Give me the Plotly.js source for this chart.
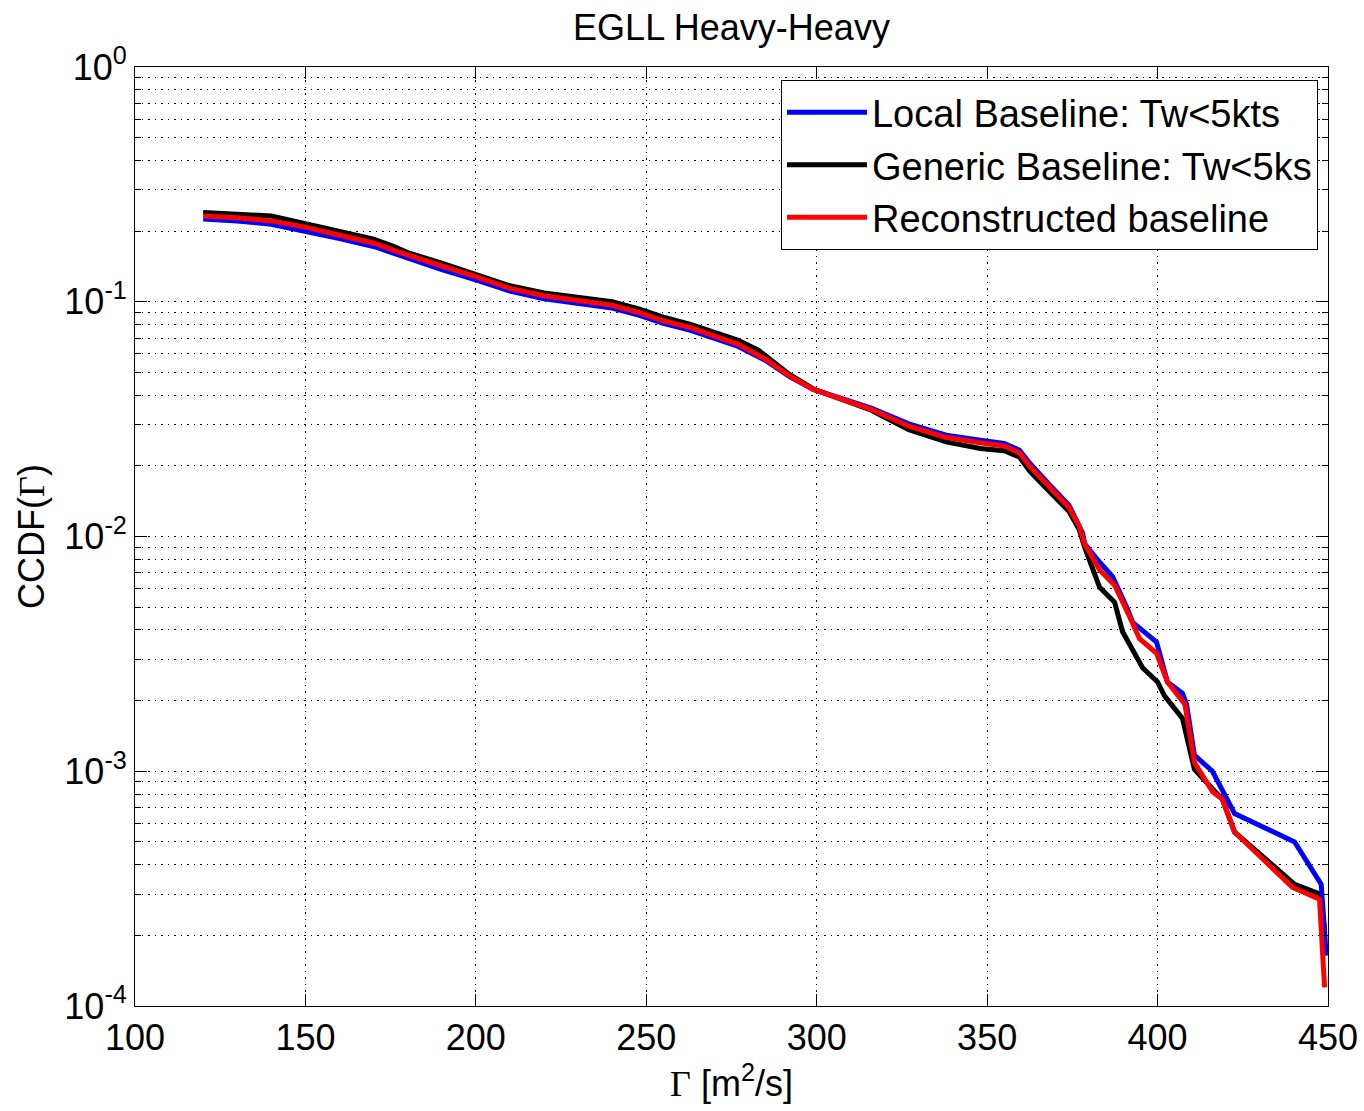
<!DOCTYPE html>
<html>
<head>
<meta charset="utf-8">
<script src="https://cdn.plot.ly/plotly-3.0.1.min.js"></script>
<style>html,body{margin:0;padding:0;background:#fff;}</style>
</head>
<body>
<div id="chart" style="width:1364px;height:1111px;"></div>
<script>
// Local Baseline: Tw<5kts (blue)
const localX = [120,130,140,150,160,170,180,190,200,210,220,230,240,248,255,263,270,277,285,292,299,307,316,327,338,348,355,359.5,362.5,368,374,378,378.6,383,386.8,391.2,392.7,399.7,402.9,407.3,408.5,410.8,416.1,422.6,440.2,448,449.5];
const localY = [0.225,0.221,0.214,0.2,0.186,0.172,0.153,0.137,0.124,0.111,0.103,0.098,0.094,0.0875,0.081,0.0755,0.07,0.0645,0.0562,0.048,0.0423,0.0387,0.0352,0.0302,0.027,0.0257,0.0249,0.0233,0.0205,0.0168,0.0136,0.01035,0.0093,0.00777,0.00675,0.0049,0.00431,0.00355,0.0024,0.00215,0.00193,0.00117,0.001,0.00066,0.0005,0.00033,0.000164];

// Generic Baseline: Tw<5ks (black)
const genericX = [120,130,140,150,160,170,176,180,190,200,210,220,230,240,248,255,263,270,277,283,285,292,299,307,316,327,338,348,355,359.5,362.5,368,374,377,378.6,383,387.4,389.7,395.6,400,402,407.3,410.8,419,422.6,440.2,447.7,449];
const genericY = [0.240,0.237,0.232,0.215,0.199,0.185,0.172,0.162,0.146,0.131,0.117,0.109,0.104,0.1,0.093,0.086,0.080,0.074,0.0685,0.062,0.059,0.049,0.0425,0.0385,0.0345,0.0285,0.0253,0.0237,0.0232,0.0218,0.019,0.0157,0.0128,0.0107,0.009,0.00607,0.00525,0.00394,0.00276,0.0024,0.0021,0.00168,0.00102,0.00076,0.00055,0.00033,0.0003,0.00021];

// Reconstructed baseline (red)
const reconX = [120,130,140,150,160,170,176.8,180,190,200,210,220,230,240,248,255,263,270,277,285,292,299,307,316,327,338,348,355,359.5,362.5,368,374,377,378.6,383,387.4,391.8,394.7,399.7,402.9,408,410.8,416.1,419,422.6,439.6,447.5,449];
const reconY = [0.232,0.228,0.221,0.208,0.192,0.178,0.164,0.158,0.142,0.128,0.114,0.106,0.101,0.0966,0.0899,0.083,0.0776,0.0715,0.0659,0.0569,0.0483,0.0423,0.0384,0.0348,0.0295,0.0264,0.0251,0.0243,0.0227,0.0199,0.0164,0.0133,0.0111,0.0093,0.0072,0.0062,0.00455,0.00367,0.00318,0.0024,0.00193,0.00109,0.00082,0.00076,0.00055,0.00032,0.000285,0.00012];

const xTicks = [100,150,200,250,300,350,400,450];
const yTickVals = [1e-4,1e-3,1e-2,1e-1,1];
const yTickText = ['10<sup>-4</sup>','10<sup>-3</sup>','10<sup>-2</sup>','10<sup>-1</sup>','10<sup>0</sup>'];

const FONT = 'Liberation Sans, Arial, Helvetica, sans-serif';

const traces = [
  {x: genericX, y: genericY, name: 'Generic Baseline: Tw<5ks', mode: 'lines',
   line: {color: '#000000', width: 5}, legendrank: 2},
  {x: localX, y: localY, name: 'Local Baseline: Tw<5kts', mode: 'lines',
   line: {color: '#0000ff', width: 5}, legendrank: 1},
  {x: reconX, y: reconY, name: 'Reconstructed baseline', mode: 'lines',
   line: {color: '#ff0000', width: 5}, legendrank: 3}
];

const gridColor = '#000000';
const gridDash = '1.5px,5px';

const layout = {
  width: 1364, height: 1111,
  paper_bgcolor: '#ffffff', plot_bgcolor: '#ffffff',
  margin: {l: 135, r: 36, t: 67, b: 105},
  font: {family: FONT, color: '#000', size: 36},
  title: {text: 'EGLL Heavy-Heavy', font: {family: FONT, size: 36, color: '#000'},
          x: 0.5, xref: 'paper', xanchor: 'center', y: 0.975, yanchor: 'middle'},
  showlegend: true,
  legend: {x: 0.9916, xanchor: 'right', y: 0.986, yanchor: 'top',
           bgcolor: '#ffffff', bordercolor: '#000', borderwidth: 1,
           font: {family: FONT, size: 38, color: '#000'},
           itemwidth: 80, traceorder: 'normal', tracegroupgap: 0},
  xaxis: {
    range: [100, 450], tickvals: xTicks, ticktext: xTicks.map(String),
    showline: true, linecolor: '#000', linewidth: 1, mirror: 'ticks',
    ticks: 'inside', ticklen: 12, tickcolor: '#000',
    showgrid: true, gridcolor: gridColor, griddash: gridDash, gridwidth: 1,
    zeroline: false,
    tickfont: {family: FONT, size: 36, color: '#000'},
    title: {text: '<span style="font-family:Liberation Serif, Times New Roman, serif">Γ</span> [m<sup>2</sup>/s]',
            font: {family: FONT, size: 36, color: '#000'}, standoff: 8}
  },
  yaxis: {
    type: 'log', range: [-4, 0], tickvals: yTickVals, ticktext: yTickText,
    showline: true, linecolor: '#000', linewidth: 1, mirror: 'ticks',
    ticks: 'inside', ticklen: 12, tickcolor: '#000',
    showgrid: true, gridcolor: gridColor, griddash: gridDash, gridwidth: 1,
    zeroline: false,
    tickfont: {family: FONT, size: 36, color: '#000'},
    minor: {dtick: 'D1', ticks: 'inside', ticklen: 6, tickcolor: '#000',
            showgrid: true, gridcolor: gridColor, griddash: gridDash, gridwidth: 1},
    title: {text: 'CCDF(<span style="font-family:Liberation Serif, Times New Roman, serif">Γ</span>)',
            font: {family: FONT, size: 36, color: '#000'}, standoff: 8}
  }
};

Plotly.newPlot('chart', traces, layout, {displayModeBar: false, staticPlot: true});
</script>
</body>
</html>
